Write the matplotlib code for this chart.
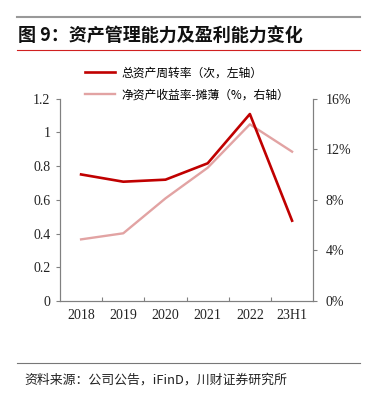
import matplotlib
matplotlib.use('Agg')
import matplotlib.pyplot as plt
from matplotlib.ticker import FuncFormatter, FixedLocator

plt.rcParams['font.family'] = ['Noto Sans CJK SC', 'DejaVu Sans']

years = ['2018', '2019', '2020', '2021', '2022', '23H1']
turnover = [0.75, 0.707, 0.719, 0.816, 1.108, 0.476]
roe = [4.87, 5.35, 8.11, 10.53, 13.96, 11.8]

red = '#C00000'
pink = '#E2A3A3'
grey = '#808080'
serif = 'Liberation Serif'

fig = plt.figure(figsize=(3.68, 3.98), dpi=100)
ax = fig.add_axes([0.163, 0.2437, 0.688, 0.5088])
ax2 = ax.twinx()

x = list(range(len(years)))
l1, = ax.plot(x, turnover, color=red, lw=1.9, label='总资产周转率（次，左轴）', zorder=3)
l2, = ax2.plot(x, roe, color=pink, lw=1.7, label='净资产收益率-摊薄（%，右轴）', zorder=2)
ax.set_zorder(ax2.get_zorder() + 1)
ax.patch.set_visible(False)

ax.set_xlim(-0.5, 5.5)
ax.set_ylim(0, 1.2)
ax2.set_ylim(0, 16)
ax.set_yticks([0, 0.2, 0.4, 0.6, 0.8, 1.0, 1.2])
ax.yaxis.set_major_formatter(FuncFormatter(lambda v, p: '%g' % round(v, 1)))
ax2.set_yticks([0, 4, 8, 12, 16])
ax2.yaxis.set_major_formatter(FuncFormatter(lambda v, p: '%d%%' % v))
ax.set_xticks(x)
ax.set_xticklabels(years)
ax.xaxis.set_minor_locator(FixedLocator([0.5, 1.5, 2.5, 3.5, 4.5]))

for a in (ax, ax2):
    for s in a.spines.values():
        s.set_color(grey)
        s.set_linewidth(0.8)
    a.spines['top'].set_visible(False)

ax.tick_params(axis='x', which='major', length=0, pad=6, labelsize=10, labelcolor='#222222')
ax.tick_params(axis='x', which='minor', direction='in', length=3, color=grey, width=0.8)
ax.tick_params(axis='y', direction='out', length=3, color=grey, width=0.8, labelsize=10, labelcolor='#222222', pad=4)
ax2.tick_params(axis='y', direction='out', length=3, color=grey, width=0.8, labelsize=10, labelcolor='#222222', pad=6)
for lab in ax.get_xticklabels() + ax.get_yticklabels() + ax2.get_yticklabels():
    lab.set_fontfamily(serif)

leg = ax.legend(handles=[l1, l2], loc='upper left', bbox_to_anchor=(0.215, 0.848),
                bbox_transform=fig.transFigure, frameon=False, fontsize=8.5,
                handlelength=2.5, labelspacing=0.75, handletextpad=0.55, borderpad=0)

# header and footer
fig.add_artist(plt.Line2D([0.046, 0.978], [1 - 17 / 398, 1 - 17 / 398], color='#999999', lw=1.5))
fig.add_artist(plt.Line2D([0.046, 0.978], [1 - 50 / 398, 1 - 50 / 398], color='#D02020', lw=0.8))
fig.text(0.05, 1 - 36 / 398, '图 9：资产管理能力及盈利能力变化', fontsize=13, fontweight='bold',
         va='center', ha='left', color='#111111')
fig.add_artist(plt.Line2D([0.046, 0.978], [1 - 363 / 398, 1 - 363 / 398], color='#777777', lw=0.8))
fig.text(0.065, 1 - 380 / 398, '资料来源：公司公告，iFinD，川财证券研究所', fontsize=9.3, style='italic',
         va='center', ha='left', color='#222222')

fig.savefig('out.png', dpi=100)
